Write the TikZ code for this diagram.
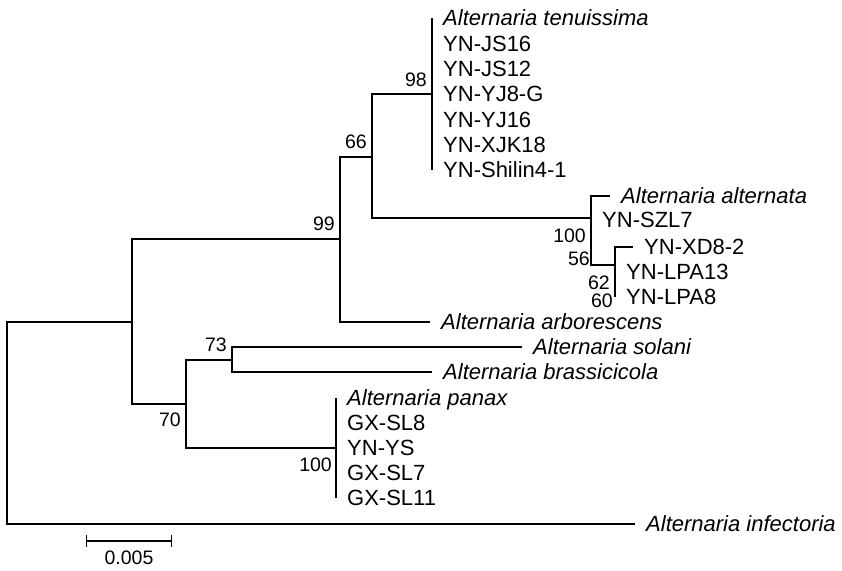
\documentclass[tikz,border=0pt]{standalone}
\usepackage{fontspec}
\setmainfont{Liberation Sans}
\usetikzlibrary{arrows.meta, positioning}

\begin{document}
\begin{tikzpicture}[x=1pt, y=-1pt,
  br/.style={line width=1.2pt, line join=miter},
  thk/.style={line width=2.6pt},
  leaf/.style={anchor=west, inner xsep=11pt, inner ysep=0pt,
               text height=15.75pt, text depth=0pt,
               font=\fontsize{22}{26}\selectfont},
  boot/.style={inner sep=0pt, text height=14pt, text depth=0pt,
               font=\fontsize{19.5}{23}\selectfont}
]
\useasboundingbox (0,0) rectangle (842,570);

% inner nodes
\coordinate (root)  at (7,422);
\coordinate (nA)    at (132,322);
\coordinate (n99)   at (340,239);
\coordinate (n66)   at (372,157);
\coordinate (n98)   at (432,94);
\coordinate (n100a) at (591,218);
\coordinate (n56)   at (591,240);
\coordinate (n62)   at (615,265);
\coordinate (n70)   at (186,404);
\coordinate (n73)   at (232,360);
\coordinate (n100p) at (336,448);

% backbone
\draw[br] (root) |- (nA);
\draw[br] (nA) |- (n99);
\draw[br] (nA) |- (n70);
\draw[br] (n99) |- (n66);
\draw[br] (n66) |- (n98);
\draw[br] (n66) |- (n100a);
\draw[br] (n70) |- (n73);
\draw[br] (n70) |- (n100p);
\draw[br] (n56) |- (n62);
\draw[thk] (n100a) -- (n56);

% tenuissima clade
\foreach \n/\y/\t in {
  ten/18/\textit{Alternaria tenuissima}, js16/43.3/YN-JS16, js12/68.7/YN-JS12,
  yj8/94/YN-YJ8-G, yj16/119.3/YN-YJ16, xjk/144.7/YN-XJK18, shl/170/YN-Shilin4-1} {
  \node[leaf] (\n) at (432,\y) {\t};
  \draw[br] (n98) |- (\n.west);
}

% alternata clade
\node[leaf] (alt)   at (610,196) {\textit{Alternaria alternata}};
\node[leaf] (szl)   at (591,220) {YN-SZL7};
\node[leaf] (xd8)   at (633,247) {YN-XD8-2};
\node[leaf] (lpa13) at (615,272) {YN-LPA13};
\node[leaf] (lpa8)  at (615,297) {YN-LPA8};
\draw[br] (n100a) |- (alt.west);
\draw[br] (n100a) |- (szl.west);
\draw[br] (n62) |- (xd8.west);
\draw[br] (n62) |- (lpa8.west);
\draw[thk] (615,273) -- (615,285);

% other species
\node[leaf] (arb) at (430,322) {\textit{Alternaria arborescens}};
\node[leaf] (sol) at (522,347) {\textit{Alternaria solani}};
\node[leaf] (bra) at (432,372) {\textit{Alternaria brassicicola}};
\node[leaf] (inf) at (635,524) {\textit{Alternaria infectoria}};
\draw[br] (n99) |- (arb.west);
\draw[br] (n73) |- (sol.west);
\draw[br] (n73) |- (bra.west);
\draw[br] (root) |- (inf.west);

% panax clade
\foreach \n/\y/\t in {
  pan/398/\textit{Alternaria panax}, sl8/423/GX-SL8, ys/448/YN-YS,
  sl7/473/GX-SL7, sl11/498/GX-SL11} {
  \node[leaf] (\n) at (336,\y) {\t};
  \draw[br] (n100p) |- (\n.west);
}

% bootstrap values
\node[boot, above left=7pt and 5pt of n98] (b98) {98};
\node[boot, above left=8pt and 5pt of n66] (b66) {66};
\node[boot, above left=8pt and 5pt of n99] (b99) {99};
\node[boot, above left=8pt and 5pt of n73] (b73) {73};
\node[boot, below left=8pt and 5pt of n70] (b70) {70};
\node[boot, below left=9pt and 4pt of n100p] (b100p) {100};
\node[boot, anchor=east] (b100a) at (586,235) {100};
\node[boot, anchor=east] (b56)   at (590,258) {56};
\node[boot, anchor=east] (b62)   at (610,282) {62};
\node[boot, anchor=east] (b60)   at (613,300) {60};

% scale bar
\coordinate (s0) at (86,541);
\coordinate (s1) at (172,541);
\coordinate (sm) at (129,541);
\draw[br, {Bar[width=12pt]}-{Bar[width=12pt]}] (s0) -- (s1);
\node[boot, below=9pt of sm] (slab) {0.005};
\end{tikzpicture}
\end{document}
